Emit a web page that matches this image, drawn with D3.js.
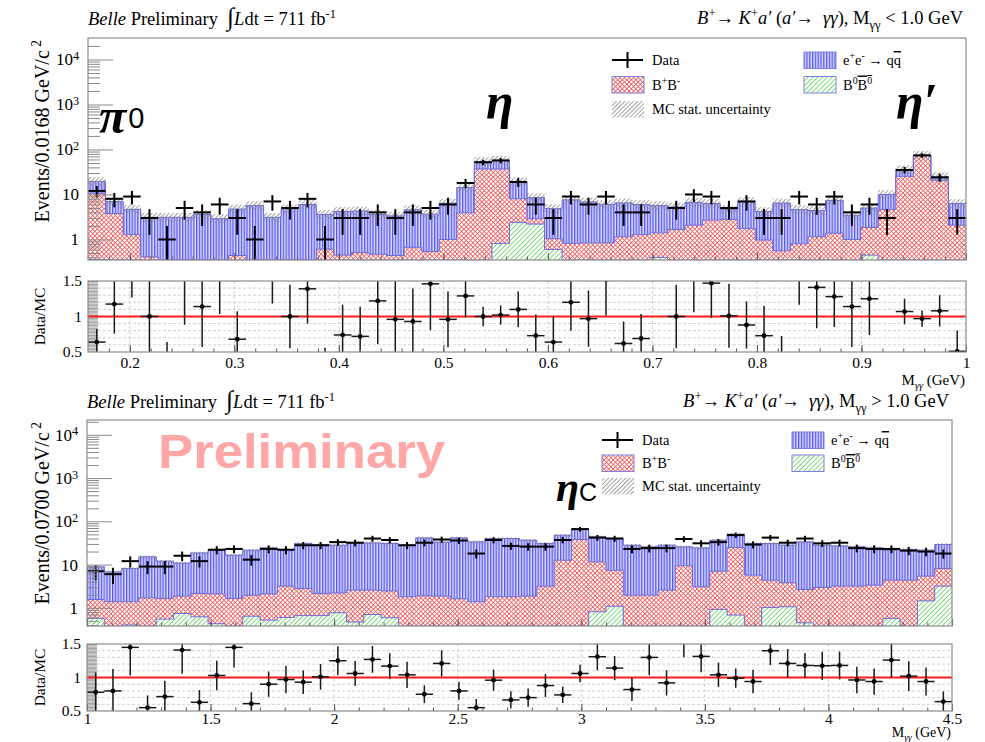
<!DOCTYPE html>
<html>
<head>
<meta charset="utf-8">
<script src="https://cdn.jsdelivr.net/npm/d3@7"></script>
<style>
  body { margin: 0; background: #fff; }
  text { white-space: pre; }
</style>
</head>
<body>
<script>
// ---------- M(gg) < 1.0 GeV : 50 bins of 0.0168 GeV starting at 0.16
const lowStart = 0.16, lowBinW = 0.0168;
const lowData = [12,8,9,3,1,5,4,6,3,1, 7,5,8,1,3,3,4,3,4,5, 6,18,52,57,19,6,3,9,6,9,
                 4,4,0,5,10,9,5,7,3,3, 9,6,9,4,6,3,35,74,24,3];
const lowQQ = [8.9,3.2,3.4,2.7,2.9,2.9,3.4,2.7,4.3,5.45, 2.9,4.6,5.8,3.0,3.75,3.8,3.1,2.9,3.9,3.1,
               5.4,10.3,17.1,20.9,11.3,5.6,3.8,6.8,6.0,5.2, 5.35,4.7,4.25,3.6,4.6,3.6,1.8,5.2,3.2,5.9,
               3.8,3.25,6.0,2.45,3.15,5.4,10.2,2.5,4.6,4.2];
const lowBpBm = [10.3,3.77,1.28,0.41,0.2,0.2,0.2,0.2,0.44,0.2, 0.2,0.2,0.2,0.61,0.45,0.51,0.47,0.44,0.67,0.54,
                 1.0,3.9,36.7,35.9,5.6,0.7,0.44,0.82,0.84,0.84, 1.15,1.28,1.0,1.67,2.08,2.7,2.8,1.76,0.97,0.56,
                 0.8,1.15,1.38,1.0,1.4,4.6,25.3,72,20.3,2.08];
const lowB0B0 = [0.36,0,0,0,0,0,0,0,0,0, 0,0,0,0,0,0,0,0,0,0, 0,0,0,0.82,2.4,2.2,0.6,0,0,0,
                 0,0,0.4,0,0,0,0,0,0,0, 0,0,0,0,0.45,0,0,0,0,0];
const lowRatio = [0.64,1.175,1.9,1.0,0.32,1.6,1.14,1.75,0.68,0.18, 1.9,1.0,1.39,0.28,0.74,0.72,1.22,0.96,0.93,1.46,
                  0.96,1.29,1.0,1.02,1.1,0.73,0.64,1.2,0.97,1.52, 0.62,0.69,null,1.0,1.55,1.47,1.01,0.88,0.73,0.46,
                  1.75,1.41,1.28,1.14,1.25,0.3,1.07,0.97,1.08,0.51];

// ---------- M(gg) > 1.0 GeV : 50 bins of 0.07 GeV starting at 1.0
const highStart = 1.0, highBinW = 0.07;
const highData = [7,6,12,9,9,16,12,22,23,13, 23,22,28,28,33,32,40,37,28,32, 38,36,18,37,27,26,26,37,66,42,
                  40,23,24,24,39,31,33,48,29,42, 32,40,31,32,24,23,23,21,20,18];
const highQQ = [7.3,5.4,6.7,13.4,10.35,9.0,16.45,20.2,14.85,19.55, 22.2,19.1,27.9,26.35,25.8,29.1,29.1,28.25,26.2,39.5,
                31.1,39.8,32.1,38.2,38.2,34.7,27.5,35.1,27.8,32.1, 32.6,26.1,23.7,25.5,16.35,21.2,29.6,25.6,25.0,26.3,
                24.3,30.8,25.15,23.8,22.5,21.0,17.1,17.9,16.1,21.0];
const highBpBm = [0.99,1.02,0.98,1.34,1.1,1.12,1.53,1.67,1.35,1.31, 1.58,2.57,2.14,1.49,1.43,2.09,1.86,1.86,1.45,1.9,
                  1.86,1.62,1.38,1.8,1.8,1.86,3.17,12.6,37.9,10.8, 6.3,1.96,1.96,2.56,9.35,3.06,6.1,24.1,5.7,3.34,
                  2.74,2.21,2.95,3.17,3.17,3.34,3.79,4.36,3.95,4.93];
const highB0B0 = [0.57,0.36,0.4,0.36,0.55,0.74,0.62,0.43,0.3,0.64, 0.52,0.6,0.66,0.66,0.77,0.47,0.7,0.59,0.35,0,
                  0,0,0,0,0,0,0,0,0,0.81, 1.09,0,0,0,0,0,0.92,0.68,0,1.02, 1.06,0.45,0,0,0,0,0.57,0,1.45,3.17];
const highRatio = [0.78,0.80,1.45,0.55,0.715,1.41,0.63,1.03,1.45,0.61, 0.90,0.97,0.93,1.01,1.25,1.06,1.27,1.17,1.04,0.75,
                   1.21,0.80,0.55,0.96,0.665,0.70,0.88,0.74,1.06,1.31, 1.14,0.82,1.30,0.92,1.55,1.315,1.04,0.99,0.94,1.40,
                   1.21,1.18,1.175,1.18,0.963,0.94,1.26,1.02,0.94,0.64];

// tick labels
const lowXTicks = [0.2,0.3,0.4,0.5,0.6,0.7,0.8,0.9,1.0];
const highXTicks = [1,1.5,2,2.5,3,3.5,4,4.5];
const logTicks = [1,10,100,1000,10000];
const ratioTicks = [0.5,1,1.5];

const serif = "'Liberation Serif', 'DejaVu Serif', 'Times New Roman', serif";
const sans = "'Liberation Sans', Arial, sans-serif";

const svg = d3.select('body').append('svg')
  .attr('width', 985).attr('height', 742)
  .attr('font-family', serif);
svg.append('rect').attr('width', 985).attr('height', 742).attr('fill', '#fff');

const defs = svg.append('defs');

function hatch(id, size, bg, color, lw, angle, cross) {
  const p = defs.append('pattern').attr('id', id)
    .attr('patternUnits', 'userSpaceOnUse')
    .attr('width', size).attr('height', size)
    .attr('patternTransform', `rotate(${angle})`);
  if (bg) p.append('rect').attr('width', size).attr('height', size).attr('fill', bg);
  p.append('rect').attr('width', lw).attr('height', size).attr('fill', color);
  if (cross) p.append('rect').attr('width', size).attr('height', lw).attr('fill', color);
}
hatch('pQQ', 2.8, '#dcdcff', '#5656f2', 1.3, 0, false);
hatch('pBB', 3.2, '#ffffff', '#f05656', 0.8, 45, true);
hatch('pB0', 3.4, '#ffffff', '#5cd45c', 0.8, 45, false);
hatch('pMC', 3, null, '#8a8a8a', 0.8, 45, false);

// text with sub/superscripts; segments are [string, flags]
function rich(parent, x, y, segs, size, anchor) {
  const t = parent.append('text').attr('x', x).attr('y', y)
    .attr('font-family', serif)
    .attr('font-size', size).attr('text-anchor', anchor || 'start');
  let shift = 0;
  segs.forEach(([s, f = '']) => {
    const target = f.includes('^') ? -0.38 * size : f.includes('_') ? 0.28 * size : 0;
    const sp = t.append('tspan').attr('dy', target - shift).text(s);
    shift = target;
    if (f.includes('^') || f.includes('_')) sp.attr('font-size', size * 0.68);
    if (f.includes('i')) sp.attr('font-style', 'italic');
    if (f.includes('o')) sp.attr('text-decoration', 'overline');
    if (f.includes('L')) sp.attr('font-size', size * 1.35);
  });
  return t;
}

function panel(c) {
  const n = c.data.length;
  const x = d3.scaleLinear([c.start, c.start + n * c.bw], [c.x0, c.x1]);
  const y = d3.scaleLog(c.yDomain, [c.y1, c.y0]).clamp(true);
  const yv = v => y(Math.max(v, c.yDomain[0]));
  const edge = i => x(c.start + i * c.bw);
  const mid = i => x(c.start + (i + 0.5) * c.bw);

  const g = svg.append('g');
  defs.append('clipPath').attr('id', 'clip' + c.id).append('rect')
    .attr('x', c.x0).attr('y', c.y0).attr('width', c.x1 - c.x0).attr('height', c.y1 - c.y0);
  const plot = g.append('g').attr('clip-path', `url(#clip${c.id})`);

  // stacked MC
  const rows = c.data.map((d, i) => ({ b0: c.b0[i], bpbm: c.bpbm[i], qq: c.qq[i] }));
  const layers = d3.stack().keys(['b0', 'bpbm', 'qq'])(rows);
  const fills = { b0: 'url(#pB0)', bpbm: 'url(#pBB)', qq: 'url(#pQQ)' };
  layers.forEach(L => {
    plot.append('g').selectAll('rect').data(L).join('rect')
      .attr('x', (d, i) => edge(i))
      .attr('width', (d, i) => edge(i + 1) - edge(i) + 0.3)
      .attr('y', d => yv(d[1]))
      .attr('height', d => Math.max(0, yv(d[0]) - yv(d[1])))
      .attr('fill', fills[L.key]);
  });
  const step = d3.line().curve(d3.curveStepAfter);
  layers.forEach(L => {
    const pts = L.map((d, i) => [edge(i), yv(d[1])]);
    pts.push([edge(n), yv(L[n - 1][1])]);
    plot.append('path').attr('d', step(pts)).attr('fill', 'none')
      .attr('stroke', '#6b6bd6').attr('stroke-width', 1);
  });

  // MC statistical uncertainty band
  const e = c.mcErr;
  plot.append('g').selectAll('rect').data(layers[2]).join('rect')
    .attr('x', (d, i) => edge(i))
    .attr('width', (d, i) => edge(i + 1) - edge(i))
    .attr('y', d => yv(d[1] * (1 + e)))
    .attr('height', d => yv(d[1] / (1 + e)) - yv(d[1] * (1 + e)))
    .attr('fill', 'url(#pMC)');

  // data
  const pts = c.data.map((v, i) => ({ v, i })).filter(d => d.v > 0);
  const dg = plot.append('g').attr('stroke', '#000').attr('stroke-width', 2);
  dg.selectAll('line.h').data(pts).join('line').attr('class', 'h')
    .attr('x1', d => edge(d.i)).attr('x2', d => edge(d.i + 1))
    .attr('y1', d => yv(d.v)).attr('y2', d => yv(d.v));
  dg.selectAll('line.v').data(pts).join('line').attr('class', 'v')
    .attr('x1', d => mid(d.i)).attr('x2', d => mid(d.i))
    .attr('y1', d => yv(d.v - Math.sqrt(d.v))).attr('y2', d => yv(d.v + Math.sqrt(d.v)));

  // axes of main pad
  const minors = [];
  [0.1, 1, 10, 100, 1000, 10000].forEach(dec => {
    for (let k = 2; k <= 9; k++) if (k * dec > c.yDomain[0] && k * dec < c.yDomain[1]) minors.push(k * dec);
  });
  g.append('g').attr('transform', `translate(${c.x0},0)`).attr('color', '#8a8a8a')
    .call(d3.axisRight(y).tickValues(minors).tickSize(12).tickFormat(''))
    .call(s => s.select('.domain').remove());
  g.append('g').attr('transform', `translate(${c.x0},0)`).attr('color', '#8a8a8a')
    .call(d3.axisRight(y).tickValues(logTicks).tickSize(25).tickFormat(''))
    .call(s => s.select('.domain').remove());
  const yl = g.append('g').attr('transform', `translate(${c.x0},0)`)
    .call(d3.axisLeft(y).tickValues(logTicks).tickSize(0).tickPadding(9));
  yl.select('.domain').remove();
  yl.selectAll('.tick text').attr('fill', '#000')
    .attr('font-family', serif).attr('font-size', 17)
    .each(function (d) {
      const t = d3.select(this);
      t.text(null);
      if (d < 100) t.text(String(d));
      else {
        t.append('tspan').text('10');
        t.append('tspan').attr('dy', '-0.45em').attr('font-size', '0.72em').text(Math.round(Math.log10(d)));
      }
    });
  const xMin = d3.range(c.minorFrom, c.minorTo + 1).map(k => k * c.minorStep)
    .filter(v => v > c.start && v < c.start + n * c.bw);
  g.append('g').attr('transform', `translate(0,${c.y1})`).attr('color', '#555')
    .call(d3.axisTop(x).tickValues(xMin).tickSize(3.5).tickFormat(''))
    .call(s => s.select('.domain').remove());
  g.append('g').attr('transform', `translate(0,${c.y1})`).attr('color', '#555')
    .call(d3.axisTop(x).tickValues(c.xTicks).tickSize(7).tickFormat(''))
    .call(s => s.select('.domain').remove());

  g.append('rect').attr('x', c.x0).attr('y', c.y0)
    .attr('width', c.x1 - c.x0).attr('height', c.y1 - c.y0)
    .attr('fill', 'none').attr('stroke', '#8c8c8c').attr('stroke-width', 1.2);

  // y title
  rich(g, 0, 0, [['Events/' + c.binLabel + ' GeV/c'], [' 2', '^']], 20, 'end')
    .attr('transform', `translate(49,${c.y0 + 2}) rotate(-90)`);

  // ---- ratio pad
  const ry = d3.scaleLinear([0.5, 1.5], [c.ry1, c.ry0]);
  const rg = svg.append('g');
  defs.append('clipPath').attr('id', 'rclip' + c.id).append('rect')
    .attr('x', c.x0).attr('y', c.ry0).attr('width', c.x1 - c.x0).attr('height', c.ry1 - c.ry0);
  const rp = rg.append('g').attr('clip-path', `url(#rclip${c.id})`);
  rp.append('g').selectAll('line').data(d3.range(6, 15).filter(k => k !== 10).map(k => k / 10)).join('line')
    .attr('x1', c.x0).attr('x2', c.x1).attr('y1', d => ry(d)).attr('y2', d => ry(d))
    .attr('stroke', '#c4c4c4').attr('stroke-dasharray', '3,2').attr('stroke-width', 0.8);
  rp.append('g').selectAll('line').data(c.xTicks.filter(v => x(v) > c.x0 + 2 && x(v) < c.x1 - 2)).join('line')
    .attr('x1', d => x(d)).attr('x2', d => x(d)).attr('y1', c.ry0).attr('y2', c.ry1)
    .attr('stroke', '#c4c4c4').attr('stroke-dasharray', '3,2').attr('stroke-width', 0.8);
  rp.append('g').attr('color', '#a0a0a0')
    .attr('transform', `translate(${c.x0},0)`)
    .call(d3.axisRight(ry).tickValues(d3.range(25, 76).map(k => k / 50)).tickSize(10).tickFormat(''))
    .call(s => s.select('.domain').remove());
  rp.append('line').attr('x1', c.x0).attr('x2', c.x1).attr('y1', ry(1)).attr('y2', ry(1))
    .attr('stroke', '#ff1a1a').attr('stroke-width', 2);

  const rpts = c.ratio.map((r, i) => ({ r, i, n: c.data[i] })).filter(d => d.r !== null && d.n > 0);
  const eg = rp.append('g').attr('stroke', '#1a1a1a').attr('stroke-width', 1.5);
  eg.selectAll('line.v').data(rpts).join('line').attr('class', 'v')
    .attr('x1', d => mid(d.i)).attr('x2', d => mid(d.i))
    .attr('y1', d => ry(d.r - d.r / Math.sqrt(d.n))).attr('y2', d => ry(d.r + d.r / Math.sqrt(d.n)));
  eg.selectAll('line.h').data(rpts).join('line').attr('class', 'h')
    .attr('x1', d => edge(d.i)).attr('x2', d => edge(d.i + 1))
    .attr('y1', d => ry(d.r)).attr('y2', d => ry(d.r));
  rp.append('g').selectAll('circle').data(rpts).join('circle')
    .attr('cx', d => mid(d.i)).attr('cy', d => ry(d.r)).attr('r', 2.4).attr('fill', '#000');

  rg.append('g').attr('transform', `translate(0,${c.ry1})`).attr('color', '#555')
    .call(d3.axisTop(x).tickValues(xMin).tickSize(3.5).tickFormat(''))
    .call(s => s.select('.domain').remove());
  rg.append('g').attr('transform', `translate(0,${c.ry1})`).attr('color', '#555')
    .call(d3.axisTop(x).tickValues(c.xTicks).tickSize(7).tickFormat(''))
    .call(s => s.select('.domain').remove());
  rg.append('rect').attr('x', c.x0).attr('y', c.ry0)
    .attr('width', c.x1 - c.x0).attr('height', c.ry1 - c.ry0)
    .attr('fill', 'none').attr('stroke', '#8c8c8c').attr('stroke-width', 1.2);

  const xl = rg.append('g').attr('transform', `translate(0,${c.ry1})`)
    .call(d3.axisBottom(x).tickValues(c.xTicks).tickSize(0).tickPadding(c.xPad)
      .tickFormat(d => String(+d.toFixed(2))));
  xl.select('.domain').remove();
  xl.selectAll('text').attr('fill', '#000').attr('font-family', serif).attr('font-size', 15.5);
  const ryl = rg.append('g').attr('transform', `translate(${c.x0},0)`)
    .call(d3.axisLeft(ry).tickValues(ratioTicks).tickSize(0).tickPadding(6).tickFormat(d => String(d)));
  ryl.select('.domain').remove();
  ryl.selectAll('text').attr('fill', '#000').attr('font-family', serif).attr('font-size', 15.5);

  rg.append('text').attr('transform', `translate(45,${(c.ry0 + c.ry1) / 2}) rotate(-90)`)
    .attr('text-anchor', 'middle').attr('font-family', serif).attr('font-size', 15.5).text('Data/MC');
  rich(rg, c.x1 - 1, c.mTitleY, [['M'], ['γγ', '_i'], [' (GeV)']], c.mTitleSize, 'end');

  // headers
  rich(svg, c.x0, c.headY, [['Belle', 'i'], [' Preliminary  '], ['∫', 'L'], ['L', 'i'], ['dt = 711 fb'], ['-1', '^']], 18.5);
  rich(svg, c.x1 - 3, c.headY - 1, c.title, 18.5, 'end');

  // legend
  const lg = svg.append('g');
  const L = c.leg;
  lg.append('line').attr('x1', L.ax).attr('x2', L.ax + 31).attr('y1', L.y0 + 8).attr('y2', L.y0 + 8)
    .attr('stroke', '#000').attr('stroke-width', 2);
  lg.append('line').attr('x1', L.ax + 15.5).attr('x2', L.ax + 15.5).attr('y1', L.y0).attr('y2', L.y0 + 16)
    .attr('stroke', '#000').attr('stroke-width', 2);
  const box = (bx, by, fill, stroke) => lg.append('rect').attr('x', bx).attr('y', by)
    .attr('width', 32).attr('height', 16.5).attr('fill', fill)
    .attr('stroke', stroke).attr('stroke-width', stroke === 'none' ? 0 : 1);
  box(L.ax, L.y0 + L.dy, 'url(#pBB)', '#8080e0');
  box(L.ax, L.y0 + 2 * L.dy, 'url(#pMC)', 'none');
  box(L.bx, L.y0, 'url(#pQQ)', '#8080e0');
  box(L.bx, L.y0 + L.dy, 'url(#pB0)', '#8080e0');
  rich(lg, L.ax + 40, L.y0 + 13, [['Data']], 14.5);
  rich(lg, L.ax + 40, L.y0 + L.dy + 13, [['B'], ['+', '^'], ['B'], ['-', '^']], 14.5);
  rich(lg, L.ax + 40, L.y0 + 2 * L.dy + 13, [['MC stat. uncertainty']], 14.5);
  rich(lg, L.bx + 39, L.y0 + 13, [['e'], ['+', '^'], ['e'], ['-', '^'], [' → q'], ['q', 'o']], 14.5);
  rich(lg, L.bx + 39, L.y0 + L.dy + 13, [['B'], ['0', '^'], ['B', 'o'], ['0', '^o']], 14.5);
}

const titleSegs = cmp => [['B', 'i'], ['+', '^'], ['→ '], ['K', 'i'], ['+', '^'], ['a\'', 'i'], [' ('], ['a\'', 'i'],
  ['→  '], ['γγ', 'i'], ['), M'], ['γγ', '_'], [' ' + cmp + ' 1.0 GeV']];

panel({
  id: 'low', start: lowStart, bw: lowBinW,
  data: lowData, qq: lowQQ, bpbm: lowBpBm, b0: lowB0B0, ratio: lowRatio,
  x0: 88, x1: 966, y0: 38, y1: 260, ry0: 281, ry1: 352,
  yDomain: [0.35, 3e4], mcErr: 0.25,
  xTicks: lowXTicks, minorFrom: 8, minorTo: 50, minorStep: 0.02,
  binLabel: '0.0168', xPad: 5, mTitleY: 385, mTitleSize: 15, headY: 25,
  title: titleSegs('<'),
  leg: { ax: 612, bx: 804, y0: 52, dy: 24.5 }
});

panel({
  id: 'high', start: highStart, bw: highBinW,
  data: highData, qq: highQQ, bpbm: highBpBm, b0: highB0B0, ratio: highRatio,
  x0: 87, x1: 952, y0: 420, y1: 626, ry0: 644, ry1: 711,
  yDomain: [0.38, 2.2e4], mcErr: 0.07,
  xTicks: highXTicks, minorFrom: 10, minorTo: 45, minorStep: 0.1,
  binLabel: '0.0700', xPad: 2, mTitleY: 737, mTitleSize: 14, headY: 408,
  title: titleSegs('>'),
  leg: { ax: 602, bx: 792, y0: 432, dy: 23 }
});

// resonance labels
const big = (x, y, s, size) => svg.append('text').attr('x', x).attr('y', y)
  .attr('font-family', serif)
  .attr('font-size', size).attr('font-weight', 'bold').attr('font-style', 'italic').text(s);
const pi0 = big(99, 133, 'π', 50);
pi0.append('tspan').attr('dy', -5).attr('dx', 2).attr('font-family', sans).attr('font-size', 29)
  .attr('font-weight', 'normal').attr('font-style', 'normal').text('0');
big(486, 118, 'η', 50);
big(896, 118, 'η′', 50);
const etac = big(556, 501, 'η', 42);
etac.append('tspan').attr('font-family', sans).attr('font-size', 25)
  .attr('font-weight', 'normal').attr('font-style', 'normal').text('C');

svg.append('text').attr('x', 158).attr('y', 468)
  .attr('font-family', sans).attr('font-weight', 'bold').attr('font-size', 48)
  .attr('fill', '#ffa6a6').attr('textLength', 287).attr('lengthAdjust', 'spacingAndGlyphs')
  .text('Preliminary');
</script>
</body>
</html>
